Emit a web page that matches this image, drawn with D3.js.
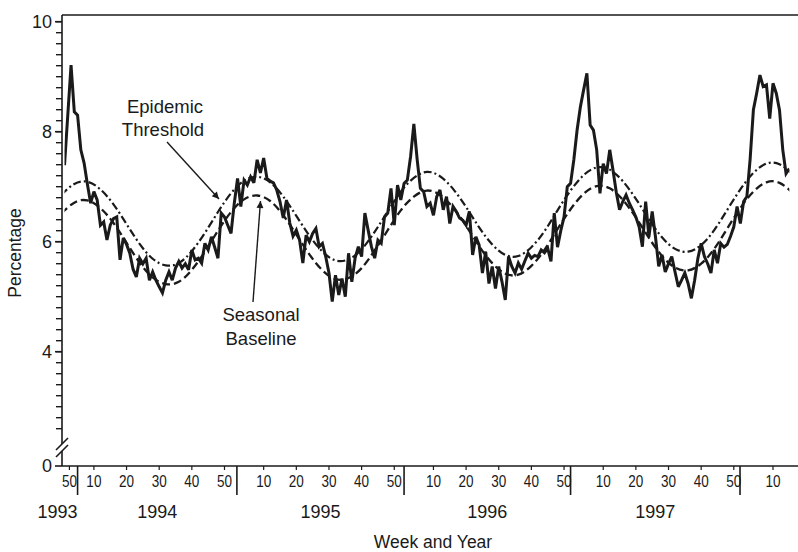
<!DOCTYPE html>
<html><head><meta charset="utf-8">
<script src="https://cdn.jsdelivr.net/npm/d3@7"></script>
<style>
body{margin:0;background:#fff}
svg{display:block}
text{font-family:"Liberation Sans",Arial,Helvetica,sans-serif;fill:#1a1a1a}
</style>
</head><body>
<svg id="chart" width="798" height="552"></svg>
<script>
// week index = (year-1993)*52 + week
const startWeek = 53;
const observed = [
7.39,8.3,9.21,8.36,8.30,7.67,7.43,7.05,6.70,6.91,6.76,6.30,6.36,6.03,6.30,6.42,6.45,5.67,6.07,5.95,
5.79,5.5,5.36,5.70,5.6,5.70,5.30,5.45,5.3,5.18,5.07,5.30,5.45,5.30,5.52,5.64,5.52,5.6,5.49,5.85,
5.67,5.7,5.61,5.97,5.85,6.09,5.9,5.70,6.52,6.45,6.3,6.15,6.70,7.15,6.64,7.12,7.03,7.18,7.07,7.49,
7.25,7.52,7.15,7.1,7.07,6.94,6.73,6.43,6.76,6.34,6.1,6.21,6.03,5.61,6.12,6.0,6.15,6.24,5.91,5.97,
5.73,5.43,4.91,5.39,5.03,5.33,5.0,5.79,5.27,5.70,5.91,5.73,6.52,6.21,5.91,5.70,6.03,5.97,6.45,6.52,
6.97,6.3,7.03,6.76,7.06,7.12,7.55,8.14,7.5,6.97,6.91,6.64,6.7,6.48,6.82,6.94,6.58,6.82,6.33,6.64,
6.55,6.43,6.39,6.30,6.55,5.76,6.09,5.94,5.43,5.82,5.24,5.55,5.15,5.55,5.27,4.94,5.73,5.55,5.43,5.61,
5.5,5.65,5.79,5.7,5.75,5.73,5.85,5.8,5.88,5.64,6.52,5.9,6.2,6.45,7.0,7.06,7.49,8.03,8.45,8.76,
9.06,8.12,8.03,7.67,6.88,7.42,7.24,7.67,7.30,6.9,6.58,6.73,6.85,6.70,6.58,6.45,6.27,5.91,6.73,6.09,
6.55,6.09,5.55,5.76,5.45,5.6,5.73,5.45,5.18,5.3,5.43,5.24,4.97,5.3,5.7,5.97,5.73,5.6,5.43,5.85,
5.61,5.97,5.9,5.95,6.1,6.27,6.64,6.33,6.73,6.82,7.5,8.4,8.70,9.03,8.82,8.85,8.24,8.88,8.70,8.39,
7.67,7.24,7.33
];
const curveWeeks = [52,56,60,64,68,72,76,80,84,88,92,96,100,104,108,112,116,120,124,128,132,136,140,144,148,152,156,160,164,168,172,176,180,184,188,192,196,200,204,208,212,216,220,224,228,232,236,240,244,248,252,256,260,264,268,272,276];
const baseline = [6.51,6.71,6.75,6.61,6.34,5.98,5.62,5.35,5.23,5.27,5.49,5.82,6.20,6.54,6.77,6.84,6.74,6.48,6.13,5.77,5.48,5.32,5.34,5.52,5.84,6.21,6.57,6.82,6.93,6.85,6.62,6.29,5.92,5.61,5.42,5.40,5.56,5.85,6.23,6.59,6.87,7.01,6.97,6.76,6.44,6.07,5.74,5.53,5.48,5.60,5.87,6.24,6.61,6.91,7.08,7.07,6.89];
const threshold = [6.85,7.05,7.09,6.95,6.68,6.32,5.96,5.69,5.57,5.61,5.83,6.16,6.54,6.88,7.11,7.18,7.08,6.82,6.47,6.11,5.82,5.66,5.68,5.86,6.18,6.55,6.91,7.16,7.27,7.19,6.96,6.63,6.26,5.95,5.76,5.74,5.90,6.19,6.57,6.93,7.21,7.35,7.31,7.10,6.78,6.41,6.08,5.87,5.82,5.94,6.21,6.58,6.95,7.25,7.42,7.41,7.23];

const weekTickIndex = [54.5,62,72,82,92,102,114,124,134,144,154,166,176,186,196,206,218,228,238,248,258,270];
const weekTickLabels = ["50","10","20","30","40","50","10","20","30","40","50","10","20","30","40","50","10","20","30","40","50","10"];
const yearBoundaryIndex = [57.0,105.8,157.0,208.0,259.9];
const yearLabels = ["1993","1994","1995","1996","1997"];
const yMajorTicks = [0,4,6,8,10];
const yMinorTicks = d3.range(2.6,10.001,0.2).map(v=>+v.toFixed(1));

const svg = d3.select("#chart");
const ink = "#1a1a1a";
const x = d3.scaleLinear().domain([52.23,277.66]).range([62,798]);
const y = d3.scaleLinear().domain([0,2.4,10]).range([466,439.7,21.7]);

const defs = svg.append("defs");
defs.append("clipPath").attr("id","clip")
  .append("rect").attr("x",x(startWeek)).attr("y",0)
  .attr("width",x(startWeek+observed.length-1)-x(startWeek)).attr("height",470);
defs.append("marker").attr("id","arrow").attr("viewBox","0 0 10 10")
  .attr("refX",10).attr("refY",5).attr("markerWidth",9).attr("markerHeight",7)
  .attr("markerUnits","userSpaceOnUse").attr("orient","auto")
  .append("path").attr("d","M0,0 L10,5 L0,10 z").attr("fill",ink);

// top frame line
svg.append("line").attr("x1",62).attr("x2",798).attr("y1",15).attr("y2",15)
  .attr("stroke",ink).attr("stroke-width",1.6);

// y axis line
svg.append("line").attr("x1",62).attr("x2",62).attr("y1",15).attr("y2",466)
  .attr("stroke",ink).attr("stroke-width",1.6);

// minor ticks
svg.append("g").selectAll("line").data(yMinorTicks).join("line")
  .attr("x1",56).attr("x2",62).attr("y1",d=>y(d)).attr("y2",d=>y(d))
  .attr("stroke",ink).attr("stroke-width",1.4);
// major ticks + labels
const yg = svg.append("g");
yg.selectAll("line").data(yMajorTicks).join("line")
  .attr("x1",55).attr("x2",62).attr("y1",d=>y(d)).attr("y2",d=>y(d))
  .attr("stroke",ink).attr("stroke-width",1.6);
yg.selectAll("text").data(yMajorTicks).join("text")
  .attr("x",52).attr("y",d=>y(d)).attr("dy","0.36em").attr("text-anchor","end")
  .attr("font-size",18).text(d=>d);

// axis break
svg.append("polygon").attr("points","55,451 69,437 69,444 55,458").attr("fill","#fff");
svg.append("line").attr("x1",56).attr("y1",450).attr("x2",68).attr("y2",438).attr("stroke",ink).attr("stroke-width",1.6);
svg.append("line").attr("x1",56).attr("y1",457).attr("x2",68).attr("y2",445).attr("stroke",ink).attr("stroke-width",1.6);

// x axis
svg.append("line").attr("x1",62).attr("x2",798).attr("y1",466).attr("y2",466)
  .attr("stroke",ink).attr("stroke-width",1.6);
const xg = svg.append("g");
xg.selectAll("line").data(weekTickIndex).join("line")
  .attr("x1",d=>x(d)).attr("x2",d=>x(d)).attr("y1",466).attr("y2",470)
  .attr("stroke",ink).attr("stroke-width",1.2);
xg.selectAll("text").data(weekTickIndex).join("text")
  .attr("transform",d=>`translate(${x(d)},487) scale(0.82,1)`)
  .attr("text-anchor","middle").attr("font-size",16.5)
  .text((d,i)=>weekTickLabels[i]);
svg.append("g").selectAll("line").data(yearBoundaryIndex).join("line")
  .attr("x1",d=>x(d)).attr("x2",d=>x(d)).attr("y1",466).attr("y2",495)
  .attr("stroke",ink).attr("stroke-width",1.6);
svg.append("g").selectAll("text").data(yearLabels).join("text")
  .attr("x",(d,i)=> i===0 ? x(yearBoundaryIndex[0]) : (x(yearBoundaryIndex[i-1])+x(yearBoundaryIndex[i]))/2)
  .attr("y",518).attr("text-anchor",(d,i)=> i===0 ? "end" : "middle")
  .attr("font-size",18).text(d=>d);

// axis titles
svg.append("text").attr("x",433).attr("y",548).attr("text-anchor","middle")
  .attr("font-size",17.5).text("Week and Year");
svg.append("text").attr("transform","translate(21,253) rotate(-90)")
  .attr("text-anchor","middle").attr("font-size",17.5).text("Percentage");

// series
const plot = svg.append("g").attr("clip-path","url(#clip)");
const curveLine = d3.line().x((d,i)=>x(curveWeeks[i])).y(d=>y(d)).curve(d3.curveNatural);
plot.append("path").attr("d",curveLine(threshold)).attr("fill","none")
  .attr("stroke",ink).attr("stroke-width",2.2).attr("stroke-dasharray","8,3,2,3");
plot.append("path").attr("d",curveLine(baseline)).attr("fill","none")
  .attr("stroke",ink).attr("stroke-width",2.3).attr("stroke-dasharray","8,4");
const obsLine = d3.line().x((d,i)=>x(startWeek+i)).y(d=>y(d));
plot.append("path").attr("d",obsLine(observed)).attr("fill","none")
  .attr("stroke",ink).attr("stroke-width",3).attr("stroke-linejoin","miter").attr("stroke-miterlimit",3);

// annotations
const ann = svg.append("g");
ann.append("text").attr("x",165).attr("y",113).attr("text-anchor","middle").attr("font-size",18.5).text("Epidemic");
ann.append("text").attr("x",163).attr("y",136).attr("text-anchor","middle").attr("font-size",18.5).text("Threshold");
ann.append("line").attr("x1",167).attr("y1",142).attr("x2",219).attr("y2",199)
  .attr("stroke",ink).attr("stroke-width",1.4).attr("marker-end","url(#arrow)");
ann.append("text").attr("x",261).attr("y",321).attr("text-anchor","middle").attr("font-size",18.5).text("Seasonal");
ann.append("text").attr("x",261).attr("y",345).attr("text-anchor","middle").attr("font-size",18.5).text("Baseline");
ann.append("line").attr("x1",253).attr("y1",302).attr("x2",260.5).attr("y2",201)
  .attr("stroke",ink).attr("stroke-width",1.4).attr("marker-end","url(#arrow)");
</script>
</body></html>
